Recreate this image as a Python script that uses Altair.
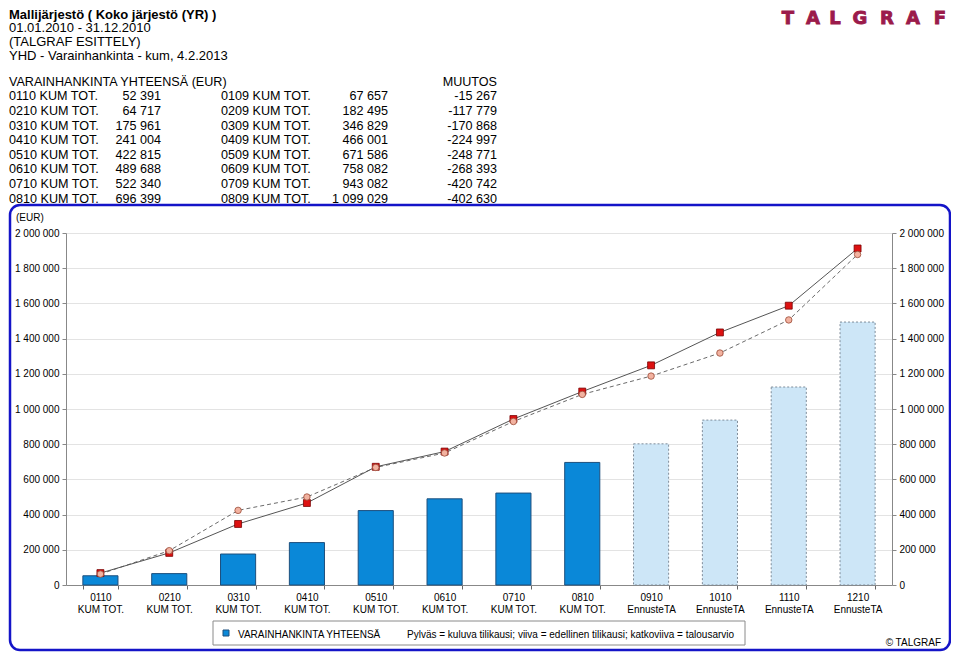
import altair as alt
import pandas as pd

FONT = "Liberation Sans"

# ---------------- data ----------------
months = ["0110", "0210", "0310", "0410", "0510", "0610", "0710", "0810",
          "0910", "1010", "1110", "1210"]
kinds = ["KUM TOT."] * 8 + ["EnnusteTA"] * 4
current = [52391, 64717, 175961, 241004, 422815, 489688, 522340, 696399,
           802000, 937000, 1125000, 1494000]
previous = [67657, 182495, 346829, 466001, 671586, 758082, 943082, 1099029,
            1248000, 1435000, 1587000, 1912000]
budget = [62000, 195000, 424000, 500000, 668000, 750000, 929000, 1083000,
          1187000, 1318000, 1506000, 1878000]
forecast = [False] * 8 + [True] * 4

prev_months = ["0109", "0209", "0309", "0409", "0509", "0609", "0709", "0809"]
table_change = [-15267, -117779, -170868, -224997, -248771, -268393, -420742, -402630]

header_title = "Mallijärjestö ( Koko järjestö (YR) )"
header_lines = ["01.01.2010 - 31.12.2010", "(TALGRAF ESITTELY)",
                "YHD - Varainhankinta - kum, 4.2.2013"]
logo_letters = ["T", "A", "L", "G", "R", "A", "F"]
legend_series = "VARAINHANKINTA YHTEENSÄ"
legend_note = "Pylväs = kuluva tilikausi; viiva = edellinen tilikausi; katkoviiva = talousarvio"


def fmt(v):
    return f"{v:,}".replace(",", " ")


cats = [f"{m}\n{k}" for m, k in zip(months, kinds)]
df = pd.DataFrame({"cat": cats, "current": current, "previous": previous,
                   "budget": budget, "forecast": forecast})

Y_LABEL = "replace(replace(format(datum.value, ','), ',', ' '), ',', ' ')"
yvals = list(range(0, 2000001, 200000))
yscale = alt.Scale(domain=[0, 2000000], nice=False, zero=True)

xaxis = alt.Axis(title="", labelExpr="split(datum.label, '\\n')",
                 labelAngle=0, tickBand="extent", tickSize=4,
                 labelPadding=3, labelLineHeight=12, labelFontSize=10,
                 labelFont=FONT, labelColor="black", domainColor="#888",
                 tickColor="#666", grid=False)
xscale = alt.Scale(paddingInner=0.49, paddingOuter=0.245)
xenc = alt.X("cat:N", sort=cats, scale=xscale, axis=xaxis)

base = alt.Chart(df)

bars_actual = base.transform_filter("!datum.forecast").mark_bar(
    fill="#0a88d8", stroke="#1d4f7d", strokeWidth=1).encode(
    x=xenc,
    y=alt.Y("current:Q", scale=yscale,
            axis=alt.Axis(orient="left", title="", values=yvals, labelExpr=Y_LABEL,
                          grid=True, gridColor="#e3e3e3", domainColor="#888",
                          tickColor="#888", tickSize=4, labelPadding=3,
                          labelFont=FONT, labelFontSize=10, labelColor="black")))

bars_fc = base.transform_filter("datum.forecast").mark_bar(
    fill="#cde6f7", stroke="#7f8c99", strokeWidth=1, strokeDash=[2, 2]).encode(
    x=xenc,
    y=alt.Y("current:Q", scale=yscale,
            axis=alt.Axis(orient="right", title="", values=yvals, labelExpr=Y_LABEL,
                          grid=False, domainColor="#888", tickColor="#888",
                          tickSize=4, labelPadding=3, labelFont=FONT,
                          labelFontSize=10, labelColor="black")))

line_prev = base.mark_line(color="#555555", strokeWidth=1).encode(
    x=xenc, y=alt.Y("previous:Q", scale=yscale, axis=None))
line_bud = base.mark_line(color="#6a6a6a", strokeWidth=1, strokeDash=[4, 3]).encode(
    x=xenc, y=alt.Y("budget:Q", scale=yscale, axis=None))
pts_prev = base.mark_square(size=48, fill="#dd1111", stroke="#7a0000",
                            strokeWidth=0.8, opacity=1).encode(
    x=xenc, y=alt.Y("previous:Q", scale=yscale, axis=None))
pts_bud = base.mark_circle(size=42, fill="#f2b2a0", stroke="#9a4a36",
                           strokeWidth=0.8, opacity=1).encode(
    x=xenc, y=alt.Y("budget:Q", scale=yscale, axis=None))

one = pd.DataFrame({"d": [0]})


def label(text, x, y, size=10, align="left", bold=False, color="black"):
    return alt.Chart(one).mark_text(
        text=text, align=align, baseline="middle", font=FONT, fontSize=size,
        fontWeight="bold" if bold else "normal", color=color).encode(
        x=alt.value(x), y=alt.value(y))


layers = []

# frame
layers.append(alt.Chart(one).mark_rect(
    fillOpacity=0, stroke="#1414c8", strokeWidth=2.5, cornerRadius=10).encode(
    x=alt.value(-56), x2=alt.value(884), y=alt.value(-28), y2=alt.value(417)))

layers += [bars_actual, bars_fc, line_bud, line_prev, pts_prev, pts_bud]

# header
layers.append(label(header_title, -57, -218.5, size=13, bold=True))
hdr = pd.DataFrame({"i": range(len(header_lines)), "t": header_lines})
layers.append(alt.Chart(hdr).transform_calculate(py="-205 + 13.8*datum.i").mark_text(
    align="left", baseline="middle", font=FONT, fontSize=13, color="black").encode(
    x=alt.value(-57), y=alt.Y("py:Q", scale=None, axis=None), text="t:N"))

# logo
logo_x = [722, 747, 769, 794, 821, 847, 874]
for lt, lx in zip(logo_letters, logo_x):
    layers.append(alt.Chart(one).mark_text(
        text=lt, align="center", baseline="middle", font="DejaVu Sans",
        fontSize=18, fontWeight="bold", color="#9b1b4b", stroke="#9b1b4b",
        strokeWidth=0.9).encode(
        x=alt.value(lx), y=alt.value(-214)))

# table
tbl = pd.DataFrame({
    "row": range(8),
    "lab1": [f"{m} KUM TOT." for m in months[:8]],
    "val1": [fmt(v) for v in current[:8]],
    "lab2": [f"{m} KUM TOT." for m in prev_months],
    "val2": [fmt(v) for v in previous[:8]],
    "chg": [fmt(v) for v in table_change],
})
tb = alt.Chart(tbl).transform_calculate(py="-136.7 + 14.6*datum.row")
for field, xpos, al in [("lab1", -57, "left"), ("val1", 95, "right"),
                        ("lab2", 155, "left"), ("val2", 322, "right"),
                        ("chg", 431, "right")]:
    layers.append(tb.mark_text(align=al, baseline="middle", font=FONT, fontSize=12.6,
                               color="black").encode(
        x=alt.value(xpos), y=alt.Y("py:Q", scale=None, axis=None), text=f"{field}:N"))

layers.append(label("VARAINHANKINTA YHTEENSÄ (EUR)", -57, -151.3, size=12.6))
layers.append(label("MUUTOS", 431, -151.3, size=12.6, align="right"))

# chart annotations
layers.append(label("(EUR)", -50, -15))

# legend box
layers.append(alt.Chart(one).mark_rect(fill="white", stroke="#8a8a8a", strokeWidth=1).encode(
    x=alt.value(147), x2=alt.value(679), y=alt.value(388), y2=alt.value(412)))
layers.append(alt.Chart(one).mark_square(size=36, fill="#0a88d8", stroke="#1d4f7d",
                                         strokeWidth=1, opacity=1).encode(
    x=alt.value(160), y=alt.value(400)))
layers.append(label(legend_series, 172, 401.5))
layers.append(label(legend_note, 341, 401.5))
layers.append(label("© TALGRAF", 875, 410, align="right"))

chart = alt.layer(*layers).properties(
    width=826, height=352,
    autosize=alt.AutoSizeParams(type="none"),
    padding={"left": 58, "top": 225, "right": 59, "bottom": 67},
    background="white",
).configure_view(stroke=None)

chart.save("out.html", embed_options={"renderer": "svg", "actions": False})
